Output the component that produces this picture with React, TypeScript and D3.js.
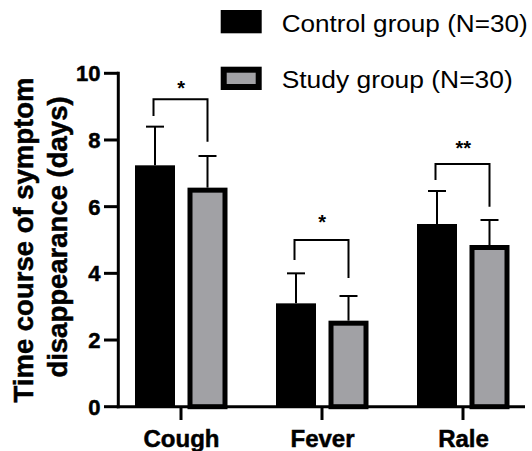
import React from "react";
import * as d3 from "d3";

const categories = ["Cough", "Fever", "Rale"];
const groups = ["Control group (N=30)", "Study group (N=30)"];
const controlMeans = [7.24, 3.1, 5.48];
const controlSD = [1.16, 0.9, 0.99];
const studyMeans = [6.57, 2.58, 4.85];
const studySD = [0.95, 0.74, 0.75];
const yTicks = [0, 2, 4, 6, 8, 10];
// significance brackets: top line value, left leg end, right leg end, star level, label
const bracketTop = [9.22, 5.0, 7.28];
const bracketLeft = [8.72, 4.4, 6.8];
const bracketRight = [7.95, 3.86, 6.0];
const starLevel = [9.57, 5.53, 7.75];
const starLabels = ["*", "*", "**"];

const W = 532;
const H = 451;
const FONT = "'Liberation Sans', Arial, Helvetica, sans-serif";
const GRAY = "#a1a1a5";

export default function App() {
  const y = d3.scaleLinear().domain([0, 10]).range([406.7, 73.3]);
  const x = d3.scaleBand<string>().domain(categories).range([110.5, 533.5]).padding(0);
  const sub = d3.scalePoint<string>().domain(["c", "s"]).range([-26, 26.5]);
  const cx = (c: string) => (x(c) as number) + x.bandwidth() / 2;
  const barW = 40;
  const sw = 5;
  const axisX = 118.3;
  const y0 = y(0);
  const boldStroke = { stroke: "#000", strokeWidth: 0.5 };

  return (
    <svg width={W} height={H} style={{ position: "absolute", left: 0, top: 0 }} fontFamily={FONT}>
      <rect x={0} y={0} width={W} height={H} fill="#fff" />
      {/* Legend */}
      <rect x={220.7} y={10} width={41} height={23.3} fill="#000" />
      <rect x={223.7} y={69.7} width={35} height={17.3} fill={GRAY} stroke="#000" strokeWidth={6} />
      <text x={281.7} y={31.5} fontSize={23} textLength={246} lengthAdjust="spacingAndGlyphs" fill="#000">
        {groups[0]}
      </text>
      <text x={281.7} y={87.5} fontSize={23} textLength={231} lengthAdjust="spacingAndGlyphs" fill="#000">
        {groups[1]}
      </text>

      {/* Bars */}
      {categories.map((c, i) => {
        const xc = cx(c) + (sub("c") as number);
        const xs = cx(c) + (sub("s") as number);
        const capW = 18;
        return (
          <g key={c}>
            <rect x={xc - barW / 2} y={y(controlMeans[i])} width={barW} height={y0 - y(controlMeans[i])} fill="#000" />
            <line x1={xc} x2={xc} y1={y(controlMeans[i])} y2={y(controlMeans[i] + controlSD[i])} stroke="#000" strokeWidth={2} />
            <line x1={xc - capW / 2} x2={xc + capW / 2} y1={y(controlMeans[i] + controlSD[i])} y2={y(controlMeans[i] + controlSD[i])} stroke="#000" strokeWidth={2} />
            <rect
              x={xs - barW / 2 + sw / 2}
              y={y(studyMeans[i]) + sw / 2}
              width={barW - sw}
              height={y0 - y(studyMeans[i]) - sw / 2}
              fill={GRAY}
              stroke="#000"
              strokeWidth={sw}
            />
            <line x1={xs} x2={xs} y1={y(studyMeans[i])} y2={y(studyMeans[i] + studySD[i])} stroke="#000" strokeWidth={2} />
            <line x1={xs - capW / 2} x2={xs + capW / 2} y1={y(studyMeans[i] + studySD[i])} y2={y(studyMeans[i] + studySD[i])} stroke="#000" strokeWidth={2} />
            {/* significance bracket */}
            <path
              d={`M${xc - 1.5},${y(bracketLeft[i])}V${y(bracketTop[i])}H${xs}V${y(bracketRight[i])}`}
              fill="none"
              stroke="#000"
              strokeWidth={2}
            />
            <text
              x={(xc + xs) / 2}
              y={y(starLevel[i]) + 7}
              fontSize={20}
              fontWeight="bold"
              textAnchor="middle"
              fill="#000"
            >
              {starLabels[i]}
            </text>
          </g>
        );
      })}

      {/* Axes */}
      <line x1={axisX} x2={axisX} y1={y(10) - 1.5} y2={y0 + 1.5} stroke="#000" strokeWidth={3} />
      <line x1={axisX - 1.5} x2={525} y1={y0} y2={y0} stroke="#000" strokeWidth={3} />
      {yTicks.map((t) => (
        <g key={t}>
          <line x1={104} x2={axisX} y1={y(t)} y2={y(t)} stroke="#000" strokeWidth={3} />
          <text x={100.5} y={y(t)} dy="0.36em" fontSize={22} fontWeight="bold" textAnchor="end" fill="#000" {...boldStroke}>
            {t}
          </text>
        </g>
      ))}
      {categories.map((c) => (
        <g key={c}>
          <line x1={cx(c)} x2={cx(c)} y1={y0} y2={420} stroke="#000" strokeWidth={3} />
          <text x={cx(c) + 0.5} y={446.7} fontSize={24} fontWeight="bold" textAnchor="middle" fill="#000" {...boldStroke}>
            {c}
          </text>
        </g>
      ))}

      {/* Y title */}
      <g transform="translate(33,240) rotate(-90)">
        <text x={0} y={0} fontSize={27.5} fontWeight="bold" textAnchor="middle" fill="#000" {...boldStroke}>
          Time course of symptom
        </text>
      </g>
      <g transform="translate(66.7,237) rotate(-90)">
        <text x={0} y={0} fontSize={27.5} fontWeight="bold" textAnchor="middle" fill="#000" {...boldStroke}>
          disappearance (days)
        </text>
      </g>
    </svg>
  );
}
